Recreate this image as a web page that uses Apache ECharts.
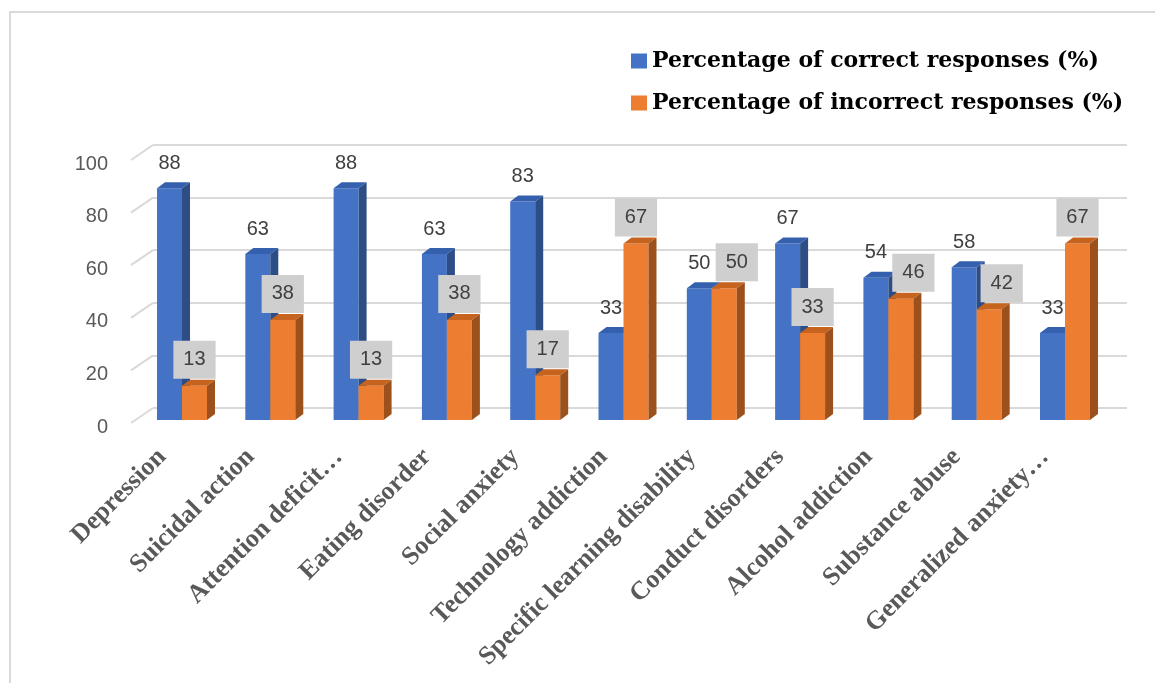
<!DOCTYPE html>
<html>
<head>
<meta charset="utf-8">
<script src="https://cdn.jsdelivr.net/npm/echarts@6/dist/echarts.min.js"></script>
<style>
  html, body { margin: 0; padding: 0; background: #fff; }
  #chart { width: 1155px; height: 683px; }
</style>
</head>
<body>
<div id="chart"></div>
<script>
// categories and values
var categories = ['Depression', 'Suicidal action', 'Attention deficit\u2026', 'Eating disorder',
  'Social anxiety', 'Technology addiction', 'Specific learning disability', 'Conduct disorders',
  'Alcohol addiction', 'Substance abuse', 'Generalized anxiety\u2026']
var correct = [88, 63, 88, 63, 83, 33, 50, 67, 54, 58, 33]
var incorrect = [13, 38, 13, 38, 17, 67, 50, 33, 46, 42, 67]
var yTicks = [0, 20, 40, 60, 80, 100]

var chart = echarts.init(document.getElementById('chart'))

// 3d-ish bar: front face + top + right side, label drawn above
function barRenderer (side, colors, boxed) {
  return function (params, api) {
    var i = api.value(0)
    var v = api.value(1)
    var top = api.coord([i, v])
    var base = api.coord([i, 0])
    var w = api.size([1, 0])[0] * 0.283
    var dx = 8
    var dy = -6
    var x0 = side < 0 ? top[0] - w : top[0]
    var x1 = x0 + w
    var y0 = top[1]
    var y1 = base[1]
    var label
    if (boxed) {
      // box moves right when it would collide with the blue label
      var blueLabelY = api.coord([i, correct[params.dataIndex]])[1] - 25
      var boxY = y0 + dy - 20
      var shift = Math.abs(boxY - blueLabelY) < 50 ? 12.5 : 0
      label = {
        type: 'text',
        z2: 10,
        style: {
          text: String(v),
          x: (x0 + x1) / 2 + shift,
          y: y0 + dy - 1,
          align: 'center',
          verticalAlign: 'bottom',
          font: '20px "Liberation Sans", sans-serif',
          fill: '#404040',
          backgroundColor: '#d0cfcf',
          padding: [9, 10, 9, 10]
        }
      }
    } else {
      label = {
        type: 'text',
        z2: 10,
        style: {
          text: String(v),
          x: (x0 + x1) / 2,
          y: y0 - 25,
          align: 'center',
          verticalAlign: 'middle',
          font: '20px "Liberation Sans", sans-serif',
          fill: '#404040'
        }
      }
    }
    return {
      type: 'group',
      children: [
        { type: 'rect', shape: { x: x0, y: y0, width: w, height: y1 - y0 }, style: { fill: colors[0] } },
        { type: 'polygon', shape: { points: [[x0, y0], [x0 + dx, y0 + dy], [x1 + dx, y0 + dy], [x1, y0]] }, style: { fill: colors[1] } },
        { type: 'polygon', shape: { points: [[x1, y0], [x1 + dx, y0 + dy], [x1 + dx, y1 + dy], [x1, y1]] }, style: { fill: colors[2] } },
        label
      ]
    }
  }
}

var options = {
  animation: false,
  graphic: [{
    type: 'rect',
    shape: { x: 10, y: 12, width: 1170, height: 700 },
    style: { fill: 'none', stroke: '#d9d9d9', lineWidth: 2 },
    silent: true
  }],
  legend: {
    orient: 'vertical',
    left: 626,
    top: 45,
    itemWidth: 16,
    itemHeight: 15,
    itemGap: 20,
    icon: 'rect',
    textStyle: {
      fontFamily: '"DejaVu Serif", serif',
      fontWeight: 'bold',
      fontSize: 22,
      color: '#000'
    },
    data: ['Percentage of correct responses (%)', 'Percentage of incorrect responses (%)']
  },
  grid: [
    // tick labels
    { left: 118, right: 65.85, top: 164, bottom: 256 },
    // bars
    { left: 137.85, right: 45.85, top: 156.6, bottom: 263 },
    // back wall
    { left: 153, right: 28, top: 145, bottom: 275 }
  ],
  xAxis: [{
    gridIndex: 0,
    type: 'category',
    data: categories,
    axisLine: { show: false },
    axisTick: { show: false },
    axisLabel: {
      interval: 0,
      rotate: 45,
      margin: 26,
      fontFamily: '"Liberation Serif", serif',
      fontWeight: 'bold',
      fontSize: 26,
      color: '#595959'
    }
  }, {
    gridIndex: 1,
    type: 'category',
    data: categories,
    show: false
  }, {
    gridIndex: 2,
    type: 'category',
    data: categories,
    show: false
  }],
  yAxis: [{
    gridIndex: 0,
    type: 'value',
    min: 0,
    max: 100,
    interval: 20,
    axisLine: { show: false },
    axisTick: { show: false },
    splitLine: { show: false },
    axisLabel: {
      margin: 10,
      fontFamily: '"Liberation Sans", sans-serif',
      fontSize: 20,
      color: '#595959'
    }
  }, {
    gridIndex: 1,
    type: 'value',
    min: 0,
    max: 100,
    interval: 20,
    show: false
  }, {
    gridIndex: 2,
    type: 'value',
    min: 0,
    max: 100,
    interval: 20,
    axisLine: { show: false },
    axisTick: { show: false },
    axisLabel: { show: false },
    splitLine: { lineStyle: { color: '#d9d9d9', width: 2 } }
  }],
  series: [{
    // slanted side-wall lines at the left end of each gridline
    type: 'custom',
    xAxisIndex: 2,
    yAxisIndex: 2,
    silent: true,
    data: yTicks.map(function (t) { return [0, t] }),
    renderItem: function (params, api) {
      var y = api.coord([0, api.value(1)])[1]
      var x = params.coordSys.x
      return {
        type: 'line',
        shape: { x1: x - 22, y1: y + 15, x2: x, y2: y },
        style: { stroke: '#d9d9d9', lineWidth: 2 }
      }
    }
  }, {
    name: 'Percentage of correct responses (%)',
    type: 'custom',
    xAxisIndex: 1,
    yAxisIndex: 1,
    itemStyle: { color: '#4472c4' },
    data: correct.map(function (v, i) { return [i, v] }),
    renderItem: barRenderer(-1, ['#4472c4', '#3560ad', '#2c4d86'], false)
  }, {
    name: 'Percentage of incorrect responses (%)',
    type: 'custom',
    xAxisIndex: 1,
    yAxisIndex: 1,
    itemStyle: { color: '#ed7d31' },
    data: incorrect.map(function (v, i) { return [i, v] }),
    renderItem: barRenderer(1, ['#ed7d31', '#c6631f', '#9c501c'], true)
  }]
}

chart.setOption(options)
window.addEventListener('resize', function () {
  chart.resize()
})
</script>
</body>
</html>
